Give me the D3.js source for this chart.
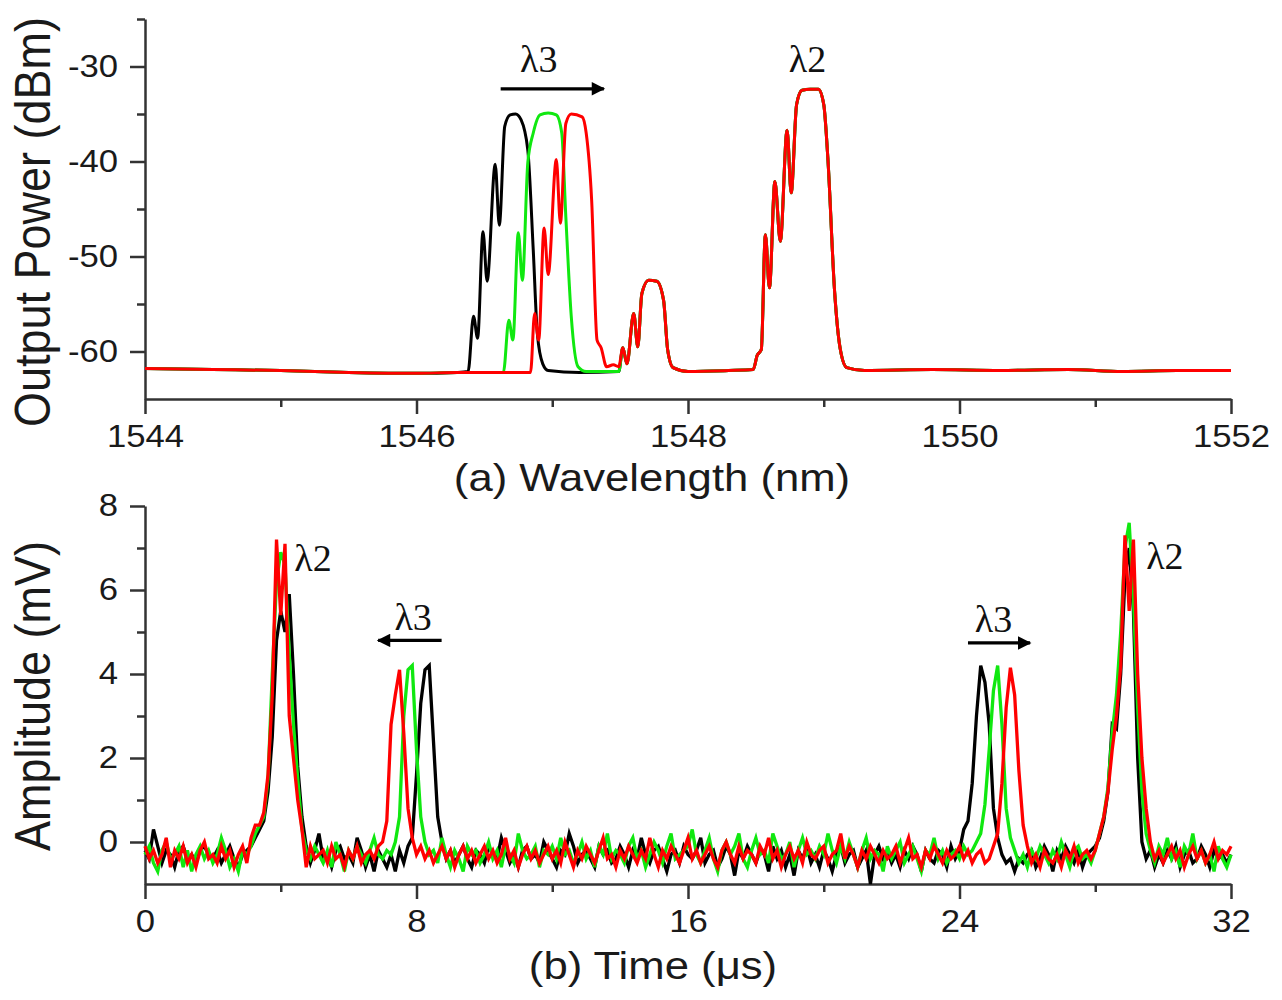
<!DOCTYPE html>
<html><head><meta charset="utf-8">
<script src="https://cdn.jsdelivr.net/npm/d3@7"></script>
<style>body{margin:0;background:#fff} svg{display:block}</style>
</head><body>
<svg id="chart" width="1282" height="1000"></svg>
<script>
// ---------- tick labels ----------
const wlTicks = [1544, 1546, 1548, 1550, 1552];
const wlMinor = [1545, 1547, 1549, 1551];
const powTicks = [-30, -40, -50, -60];
const powMinor = [-25, -35, -45, -55];
const timeTicks = [0, 8, 16, 24, 32];
const timeMinor = [4, 12, 20, 28];
const ampTicks = [0, 2, 4, 6, 8];
const ampMinor = [1, 3, 5, 7];

// ---------- (a) spectra: [wavelength nm, power dBm] ----------
const spectrumBaseLeft = [[1544,-61.8],[1544.5,-61.9],[1545,-62.0],[1545.5,-62.2],[1546,-62.3],[1546.3,-62.2]];
const spectrumBlackPeak = [[1546.38,-62.1],[1546.42,-56.3],[1546.45,-58.6],[1546.49,-47.4],[1546.52,-52.6],[1546.58,-40.3],[1546.61,-46.7],[1546.65,-36.3],[1546.69,-35.1],[1546.73,-35.0],[1546.77,-35.6],[1546.82,-38.8],[1546.86,-49.3],[1546.89,-58.1],[1546.93,-61.3],[1546.97,-62.0],[1547.2,-62.2],[1547.49,-62.1]];
const spectrumGreenPeak = [[1546.64,-62.2],[1546.68,-56.7],[1546.71,-58.8],[1546.75,-47.5],[1546.78,-52.5],[1546.82,-40.1],[1546.86,-37.0],[1546.91,-35.1],[1546.97,-34.9],[1547.03,-35.1],[1547.07,-37.0],[1547.10,-45.8],[1547.14,-56.3],[1547.19,-61.6],[1547.25,-62.1],[1547.49,-62.1]];
const spectrumRedPeak = [[1546.84,-62.2],[1546.87,-56.0],[1546.90,-58.8],[1546.94,-47.0],[1546.97,-51.9],[1547.03,-39.8],[1547.06,-46.5],[1547.10,-36.0],[1547.14,-35.0],[1547.22,-35.3],[1547.25,-37.0],[1547.29,-44.0],[1547.33,-58.8],[1547.36,-59.6],[1547.40,-61.6],[1547.45,-61.4],[1547.49,-61.6]];
const spectrumTail = [[1547.52,-59.6],[1547.55,-61.3],[1547.60,-56.0],[1547.63,-59.5],[1547.66,-53.9],[1547.71,-52.5],[1547.77,-52.6],[1547.82,-54.6],[1547.85,-59.8],[1547.89,-61.7],[1548.0,-62.1],[1548.3,-62.0],[1548.48,-61.9],[1548.51,-60.4],[1548.54,-59.8],[1548.57,-47.7],[1548.60,-53.3],[1548.64,-42.1],[1548.68,-48.4],[1548.73,-36.7],[1548.76,-43.3],[1548.80,-34.0],[1548.84,-32.5],[1548.90,-32.4],[1548.96,-32.4],[1549.00,-34.0],[1549.03,-39.6],[1549.08,-53.7],[1549.12,-59.6],[1549.17,-61.7],[1549.3,-62.0],[1549.8,-61.9],[1550.3,-62.0],[1550.8,-61.9],[1551.2,-62.1],[1551.6,-62.0],[1552,-62.0]];

// ---------- (b) time traces: amplitude mV, sampled every timeStep us from 0 ----------
const timeStep = 0.125;
const ampBlack = [
-.2,-.4,.3,-.1,-.5,-.2,-.3,-.6,-.2,-.1,-.4,-.3,-.5,-.2,-.1,-.3,
-.4,-.2,-.5,-.3,-.1,-.4,-.6,-.3,-.2,-.1,.1,.3,.5,1.2,2.5,4.8,
5.5,5.0,5.9,4.0,1.8,.6,-.1,-.5,-.2,.2,-.4,-.3,-.6,-.2,-.1,-.4,
-.3,-.5,.1,-.2,-.6,-.3,-.7,-.2,-.4,-.6,-.3,-.7,-.2,-.5,-.1,.1,
1.6,3.3,4.1,4.2,2.4,.6,0,-.4,-.2,-.5,-.3,-.1,-.4,-.6,-.2,-.3,
-.5,-.1,-.3,-.4,.1,-.2,-.5,-.3,-.6,-.2,-.1,-.4,-.3,-.5,0,-.2,
-.4,-.6,-.2,-.3,.2,-.1,-.5,-.3,-.2,-.4,-.6,-.1,-.3,-.2,-.5,-.4,
-.1,-.3,-.6,-.2,-.4,.1,-.3,-.5,-.2,-.1,-.4,-.7,-.3,-.2,-.5,-.1,
-.3,-.4,-.2,.1,-.5,-.3,-.2,-.6,-.4,-.1,-.3,-.8,-.2,-.4,-.1,-.3,
-.5,-.2,-.3,-.7,-.1,-.4,-.2,-.6,-.3,-.8,-.2,-.4,-.1,-.5,-.3,-.6,
-.2,-.4,-.7,-.3,-.1,-.5,-.3,-.2,-.6,-.4,-.2,-1.0,-.3,-.1,-.4,-.2,
-.5,-.3,-.6,-.2,-.4,-.1,-.3,-.7,-.2,-.4,-.5,-.2,-.3,-.6,-.1,-.4,
-.2,.3,.5,1.4,3.0,4.2,3.8,2.8,.8,.1,-.3,-.5,-.4,-.7,-.4,-.5,
-.3,-.2,-.6,-.4,-.1,-.3,-.7,-.2,-.4,-.1,-.3,-.5,-.2,-.6,-.3,-.2,
-.1,.1,.5,1.2,2.8,2.7,4.0,6.3,7.0,5.5,2.0,0,-.4,-.2,-.6,-.3,
-.5,-.2,-.4,-.1,-.6,-.3,-.2,-.5,-.4,-.1,-.3,-.6,-.2,-.4,-.3,-.5,
-.3];
const ampGreen = [
-.3,-.1,-.5,-.7,-.2,0,-.4,-.3,-.1,-.6,-.2,-.7,-.3,-.1,-.4,-.2,
-.5,-.3,.1,-.2,-.6,-.4,-.7,-.2,-.3,-.1,.2,.4,.6,1.5,4.0,6.2,
6.9,6.6,4.5,2.8,1.5,.3,-.2,-.4,-.1,-.3,-.5,-.2,-.6,0,-.3,-.7,
-.2,-.4,-.1,-.3,-.5,-.2,.1,-.3,-.4,-.2,-.3,0,.6,3.0,4.1,4.2,
2.2,.6,0,-.3,-.2,-.5,.1,-.3,-.6,-.2,-.4,-.7,-.1,-.3,-.2,-.5,
-.3,0,-.4,-.2,-.6,-.1,-.3,-.5,.2,-.2,-.4,-.3,-.1,-.6,-.2,-.3,
-.1,-.4,.1,-.3,-.2,-.5,-.3,0,-.4,-.2,-.6,-.1,-.3,.2,-.4,-.2,
-.3,-.5,-.1,.1,-.4,-.2,-.6,-.3,0,-.2,-.5,-.1,.2,-.4,-.3,-.2,
-.1,.3,-.3,-.5,-.2,.1,-.4,-.7,-.2,0,-.3,-.1,.2,-.4,-.6,-.2,
.1,-.3,-.2,-.5,.2,-.1,-.4,-.3,0,-.6,-.2,.1,-.3,-.2,-.4,-.1,
-.3,.2,-.2,-.5,-.1,-.4,0,-.3,-.6,-.2,.1,-.4,-.2,-.3,-.7,-.1,
-.4,-.2,0,-.5,-.3,-.1,-.4,-.7,-.2,-.3,.1,-.4,-.2,-.5,-.3,-.2,
-.4,-.1,-.3,-.2,0,.2,.9,2.2,3.6,4.2,2.8,.8,.1,-.2,-.5,-.3,
-.6,-.2,-.4,-.1,-.3,-.5,-.2,-.4,0,-.3,-.6,-.2,-.1,-.4,-.3,-.5,
-.2,.2,.6,1.3,2.6,3.5,5.0,7.0,7.6,5.8,3.2,1.2,.2,-.2,-.5,-.1,
-.3,.1,-.4,-.2,-.6,-.1,-.3,.2,-.4,-.2,-.5,-.3,-.7,-.1,-.4,-.6,
-.3];
const ampRed = [
-.1,-.4,-.2,-.5,-.3,.1,-.6,-.2,-.4,-.1,-.5,-.3,-.6,-.2,0,-.4,
-.3,-.5,-.1,-.4,-.2,-.6,-.3,-.1,-.5,.1,.4,.4,.7,1.6,3.5,7.2,
5.4,7.1,3.0,2.0,1.0,.3,-.6,-.1,-.4,-.3,-.2,-.5,-.1,-.4,-.3,-.6,
-.2,-.4,-.1,-.5,-.3,-.2,-.4,-.1,0,.5,2.8,3.5,4.1,2.6,.8,.1,
-.3,-.1,-.4,-.2,-.5,-.3,-.1,-.4,-.2,-.6,-.3,-.1,-.4,-.2,-.5,-.3,
-.1,-.4,-.2,-.5,-.3,.1,-.4,-.2,-.6,-.3,-.1,-.4,-.2,-.5,-.3,-.1,
-.4,-.2,-.5,0,-.3,-.6,-.2,-.4,-.1,-.3,-.5,-.2,.1,-.4,-.3,-.6,
-.2,-.4,-.1,-.3,-.5,-.2,-.4,.1,-.3,-.6,-.2,-.4,-.1,-.3,-.5,-.2,
.1,-.4,-.2,-.5,-.3,-.1,-.4,-.6,-.2,0,-.3,-.5,-.1,-.4,-.2,-.3,
-.5,-.1,-.3,.1,-.4,-.2,-.6,-.3,-.1,-.4,-.2,-.5,0,-.3,-.4,-.2,
-.1,-.5,-.3,-.2,.2,-.4,-.1,-.3,-.6,-.2,-.4,-.1,-.3,-.5,-.2,-.4,
-.3,-.1,-.5,-.2,.1,-.4,-.3,-.6,-.2,-.4,-.1,-.3,-.5,-.2,-.4,-.3,
-.1,-.4,-.2,-.5,-.3,-.2,-.5,-.4,-.1,.2,1.4,3.2,4.15,3.5,1.7,.4,
-.1,-.5,-.3,-.6,-.2,-.4,-.5,-.3,-.6,-.2,-.4,-.1,-.5,-.3,-.2,-.4,
-.2,.2,.6,1.2,2.2,3.0,4.2,7.3,5.5,7.2,4.0,2.0,.8,0,-.4,-.2,
-.5,-.3,-.1,-.4,-.2,-.6,-.3,-.1,-.4,-.2,-.5,-.3,0,-.4,-.2,-.3,
-.1];

// ---------- drawing ----------
const svg = d3.select("#chart");
const SANS = "Liberation Sans, Arial, sans-serif";
const SERIF = "Liberation Serif, Times New Roman, serif";
const STRETCH = 1.12;
const colors = {black: "#000000", green: "#10e810", red: "#ff0000"};
const fmtHyphen = d => String(d);  // plain hyphen-minus like the original

const xTop = d3.scaleLinear().domain([1544, 1552]).range([145, 1231]);
const yTop = d3.scaleLinear().domain([-65, -25]).range([399, 19]);
const xBot = d3.scaleLinear().domain([0, 32]).range([145, 1231]);
const yBot = d3.scaleLinear().domain([-1, 8]).range([884, 506]);

const defs = svg.append("defs");
defs.append("marker").attr("id", "arr").attr("viewBox", "0 0 10 10")
  .attr("refX", 9).attr("refY", 5).attr("markerWidth", 6).attr("markerHeight", 4.2)
  .attr("markerUnits", "strokeWidth").attr("orient", "auto")
  .append("path").attr("d", "M0,0 L10,5 L0,10 Z").attr("fill", "#000");

function styleAxis(g) {
  g.select(".domain").attr("stroke", "#333").attr("stroke-width", 2.5);
  g.selectAll(".tick line").attr("stroke", "#333").attr("stroke-width", 2.5);
  g.selectAll(".tick text").attr("fill", "#1a1a1a").attr("font-family", SANS)
    .attr("font-size", 31).attr("transform", `scale(${STRETCH},1)`);
}

function drawAxes(xs, ys, xMaj, xMin, yMaj, yMin) {
  const y0 = ys.range()[0], x0 = xs.range()[0];
  svg.append("g").attr("transform", `translate(0,${y0})`)
    .call(d3.axisBottom(xs).tickValues(xMin).tickSize(8).tickSizeOuter(0).tickFormat(""))
    .call(g => { g.select(".domain").remove(); g.selectAll("line").attr("stroke", "#333").attr("stroke-width", 2.5); });
  svg.append("g").attr("transform", `translate(${x0},0)`)
    .call(d3.axisLeft(ys).tickValues(yMin).tickSize(8).tickSizeOuter(0).tickFormat(""))
    .call(g => { g.select(".domain").remove(); g.selectAll("line").attr("stroke", "#333").attr("stroke-width", 2.5); });
  svg.append("g").attr("transform", `translate(0,${y0})`)
    .call(d3.axisBottom(xs).tickValues(xMaj).tickSize(15).tickSizeOuter(0).tickPadding(11).tickFormat(fmtHyphen))
    .call(styleAxis);
  svg.append("g").attr("transform", `translate(${x0},0)`)
    .call(d3.axisLeft(ys).tickValues(yMaj).tickSize(15).tickSizeOuter(0).tickPadding(9).tickFormat(fmtHyphen))
    .call(styleAxis);
}

drawAxes(xTop, yTop, wlTicks, wlMinor, powTicks, powMinor);
drawAxes(xBot, yBot, timeTicks, timeMinor, ampTicks, ampMinor);

// ---- spectra ----
const lineTop = d3.line().x(d => xTop(d[0])).y(d => yTop(d[1])).curve(d3.curveMonotoneX);
const spectra = [
  {c: colors.black, pts: spectrumBaseLeft.concat(spectrumBlackPeak, spectrumTail)},
  {c: colors.green, pts: spectrumBaseLeft.concat(spectrumGreenPeak, spectrumTail)},
  {c: colors.red,   pts: spectrumBaseLeft.concat(spectrumRedPeak, spectrumTail)}
];
svg.append("g").selectAll("path").data(spectra).join("path")
  .attr("d", d => lineTop(d.pts)).attr("fill", "none")
  .attr("stroke", d => d.c).attr("stroke-width", 3).attr("stroke-linejoin", "round");

// ---- time traces ----
const lineBot = d3.line().x((d, i) => xBot(i * timeStep)).y(d => yBot(d));
const traces = [
  {c: colors.black, v: ampBlack},
  {c: colors.green, v: ampGreen},
  {c: colors.red,   v: ampRed}
];
svg.append("g").selectAll("path").data(traces).join("path")
  .attr("d", d => lineBot(d.v)).attr("fill", "none")
  .attr("stroke", d => d.c).attr("stroke-width", 3.3).attr("stroke-linejoin", "miter");

// ---- axis titles ----
function hText(x, y, t, size) {
  svg.append("text").attr("transform", `translate(${x},${y}) scale(${STRETCH},1)`)
    .attr("text-anchor", "middle").attr("font-family", SANS).attr("font-size", size)
    .attr("fill", "#1a1a1a").text(t);
}
function vText(x, y, t, size) {
  svg.append("text").attr("transform", `translate(${x},${y}) rotate(-90) scale(1,${STRETCH})`)
    .attr("text-anchor", "middle").attr("font-family", SANS).attr("font-size", size)
    .attr("fill", "#1a1a1a").text(t);
}
hText(652, 491, "(a) Wavelength (nm)", 39);
hText(653, 979, "(b) Time (\u03bcs)", 39);
vText(50, 222, "Output Power (dBm)", 45);
vText(50, 696, "Amplitude (mV)", 45);

// ---- annotations ----
function lam(x, y, t, anchor) {
  svg.append("text").attr("x", x).attr("y", y).attr("text-anchor", anchor || "middle")
    .attr("font-family", SERIF).attr("font-size", 38).attr("fill", "#111").text(t);
}
function arrow(x1, x2, y) {
  svg.append("line").attr("x1", x1).attr("x2", x2).attr("y1", y).attr("y2", y)
    .attr("stroke", "#000").attr("stroke-width", 3.2).attr("marker-end", "url(#arr)");
}
lam(xTop(1546.9), yTop(-30.6), "\u03bb3");
arrow(xTop(1546.62), xTop(1547.38), yTop(-32.35));
lam(xTop(1548.88), yTop(-30.6), "\u03bb2");

lam(xBot(4.4), yBot(6.45), "\u03bb2", "start");
lam(xBot(7.9), yBot(5.05), "\u03bb3");
arrow(xBot(8.74), xBot(6.87), yBot(4.8));
lam(xBot(25.0), yBot(5.0), "\u03bb3");
arrow(xBot(24.25), xBot(26.08), yBot(4.74));
lam(xBot(29.5), yBot(6.5), "\u03bb2", "start");
</script>
</body></html>
